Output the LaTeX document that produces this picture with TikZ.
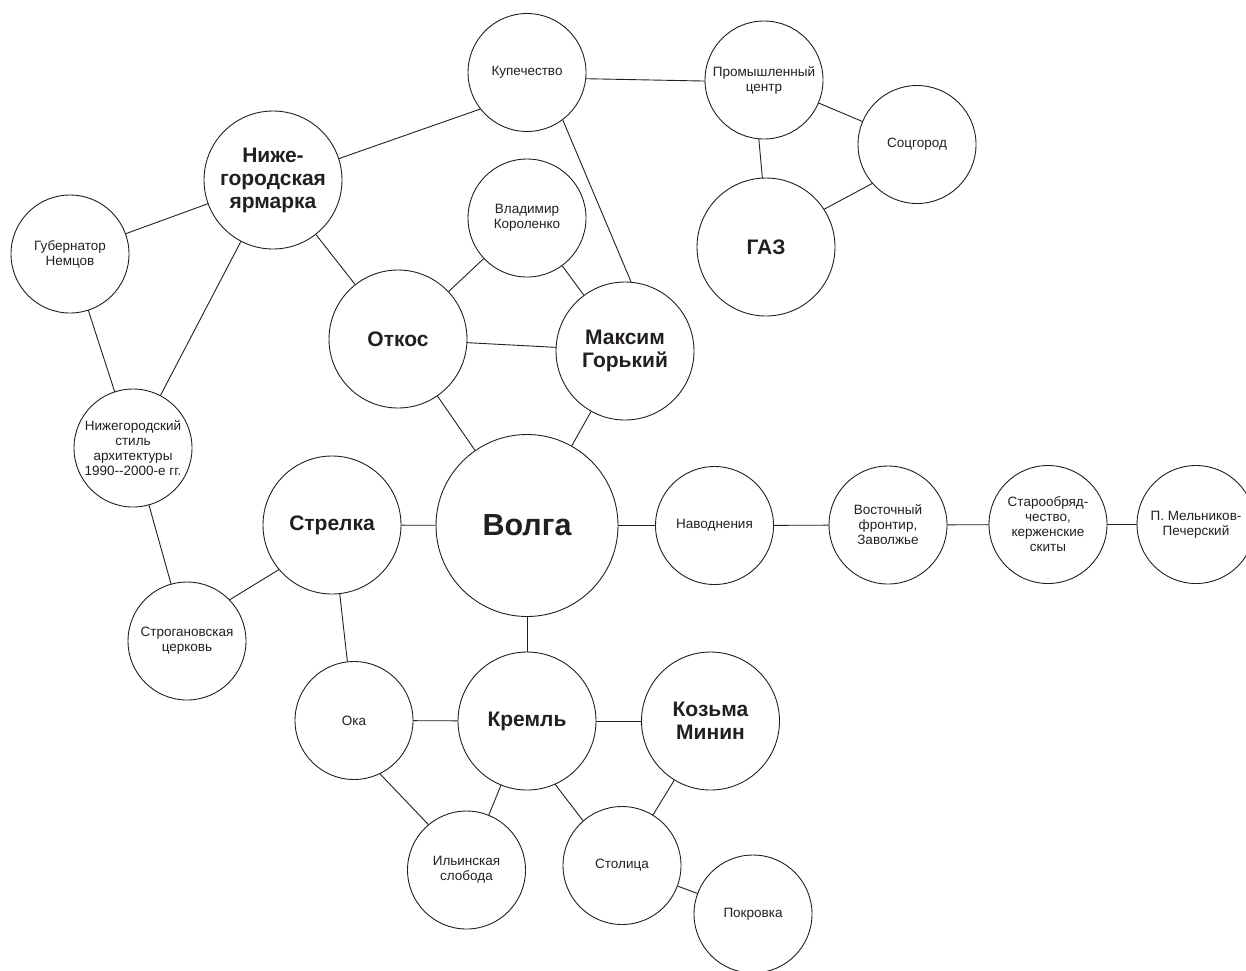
\documentclass[tikz,border=0pt]{standalone}
\usepackage{fontspec}
\setmainfont{Liberation Sans}
\definecolor{ink}{HTML}{231F20}
\begin{document}
\begin{tikzpicture}[x=1pt,y=-1pt,line join=round,line cap=round,
	every node/.style={circle,draw=ink,text=ink,line width=0.9pt,inner sep=0pt,align=center},
	minor/.style={minimum size=118pt,font=\fontsize{13.5}{15}\selectfont},
	major/.style={minimum size=138pt,font=\fontsize{21}{23}\selectfont\bfseries},
	central/.style={minimum size=182pt,font=\fontsize{30.5}{34}\selectfont\bfseries},
	link/.style={draw=ink,line width=0.9pt}]
	\useasboundingbox (0,0) rectangle (1246,970);
	% upper part
	\node[major] (yarmarka) at (273,180) {Ниже-\\городская\\ярмарка};
	\node[minor] (nemtsov) at (70,254) {Губернатор\\Немцов};
	\node[minor] (kupech) at (527,72.5) {Купечество};
	\node[minor] (prom) at (764,80) {Промышленный\\центр};
	\node[minor] (sotsgorod) at (917,144.5) {Соцгород};
	\node[major] (gaz) at (766,247) {ГАЗ};
	\node[minor] (korolenko) at (527,218) {Владимир\\Короленко};
	\node[major] (otkos) at (398,339) {Откос};
	\node[major] (gorky) at (625,351) {Максим\\Горький};
	\node[minor] (stil) at (133,448) {Нижегородский\\стиль\\архитектуры\\1990-{}-2000-е гг.};
	% middle row
	\node[major] (strelka) at (332,525) {Стрелка};
	\node[central] (volga) at (527,525.5) {Волга};
	\node[minor] (navodn) at (714.5,525.5) {Наводнения};
	\node[minor] (vostok) at (888,525) {Восточный\\фронтир,\\Заволжье};
	\node[minor] (staroobr) at (1048,524.5) {Старообряд-\\чество,\\керженские\\скиты};
	\node[minor] (melnikov) at (1196,524.5) {П. Мельников-\\Печерский};
	% lower part
	\node[minor] (strogan) at (187,641) {Строгановская\\церковь};
	\node[minor] (oka) at (354,720.5) {Ока};
	\node[major] (kreml) at (527,721) {Кремль};
	\node[major] (minin) at (710.5,721) {Козьма\\Минин};
	\node[minor] (ilyin) at (466.5,870) {Ильинская\\слобода};
	\node[minor] (stolitsa) at (622,865.5) {Столица};
	\node[minor] (pokrovka) at (753,914) {Покровка};
	% links
	\draw[link] (yarmarka.18) -- (kupech.218);
	\draw[link] (yarmarka) -- (nemtsov);
	\draw[link] (yarmarka) -- (otkos);
	\draw[link] (yarmarka) -- (stil);
	\draw[link] (nemtsov) -- (stil);
	\draw[link] (kupech.-6) -- (prom.181);
	\draw[link] (kupech.-53) -- (gorky.85);
	\draw[link] (prom) -- (sotsgorod);
	\draw[link] (prom.-95) -- (gaz.93);
	\draw[link] (sotsgorod.221) -- (gaz.33);
	\draw[link] (korolenko) -- (otkos);
	\draw[link] (korolenko) -- (gorky);
	\draw[link] (otkos) -- (gorky);
	\draw[link] (otkos) -- (volga);
	\draw[link] (gorky) -- (volga);
	\draw[link] (stil) -- (strogan);
	\draw[link] (strogan.44) -- (strelka.220);
	\draw[link] (strelka) -- (volga);
	\draw[link] (strelka) -- (oka);
	\draw[link] (volga) -- (navodn);
	\draw[link] (navodn) -- (vostok);
	\draw[link] (vostok) -- (staroobr);
	\draw[link] (staroobr) -- (melnikov);
	\draw[link] (volga) -- (kreml);
	\draw[link] (oka) -- (kreml);
	\draw[link] (oka.-64) -- (ilyin.130);
	\draw[link] (kreml) -- (ilyin);
	\draw[link] (kreml) -- (minin);
	\draw[link] (kreml.-66) -- (stolitsa.131);
	\draw[link] (minin) -- (stolitsa);
	\draw[link] (stolitsa) -- (pokrovka);
\end{tikzpicture}
\end{document}
